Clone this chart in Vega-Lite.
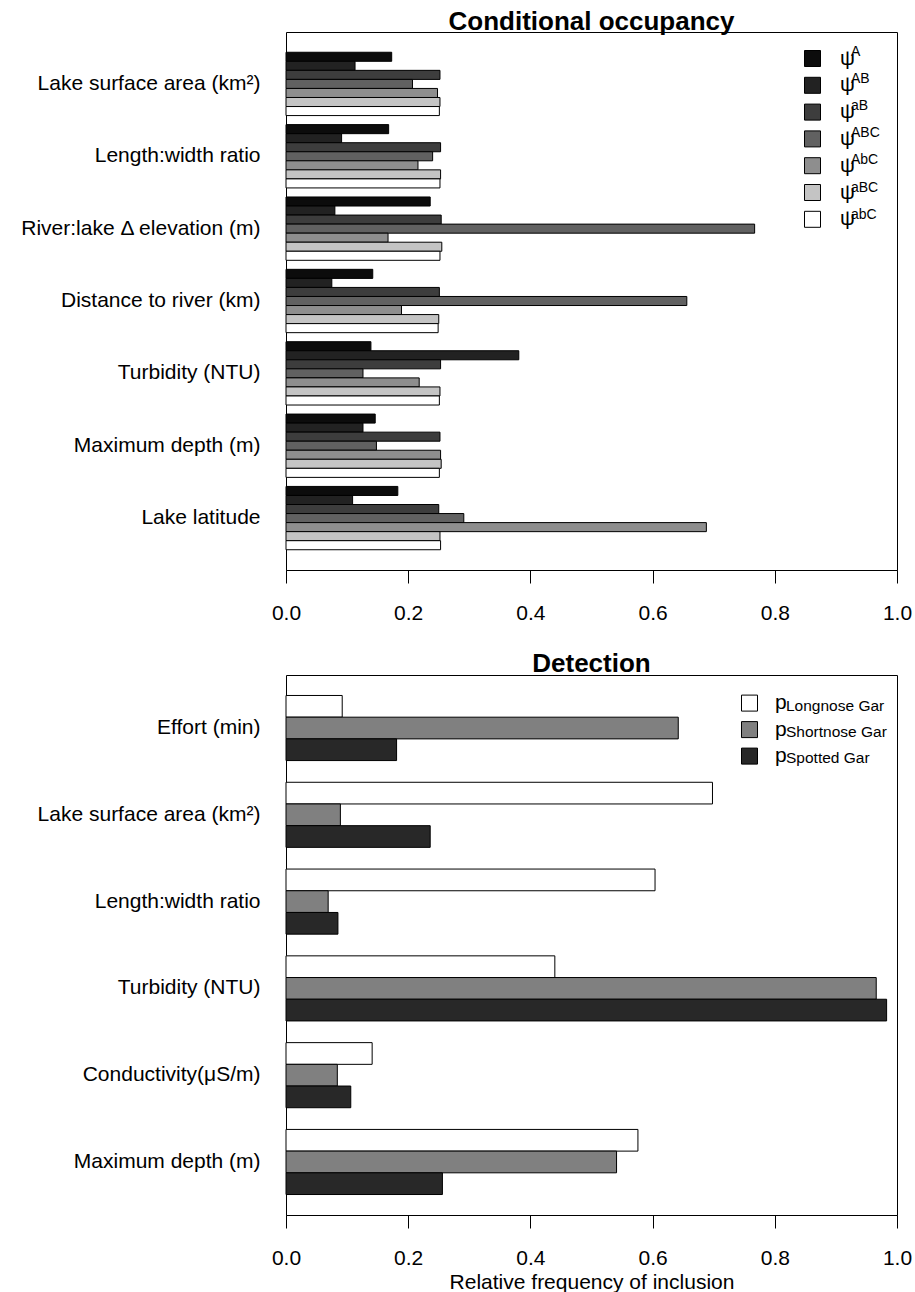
{
  "$schema": "https://vega.github.io/schema/vega-lite/v6.json",
  "background": "white",
  "padding": {"left": 19, "top": 8, "right": 10, "bottom": 2},
  "config": {
    "font": "Liberation Sans",
    "view": {"stroke": "black", "strokeWidth": 1},
    "axis": {"labelFont": "Liberation Sans", "labelColor": "black", "labelFontSize": 21, "grid": false, "domainColor": "black", "tickColor": "black", "titleFont": "Liberation Sans", "titleColor": "black"},
    "legend": {"labelFont": "Liberation Sans", "labelColor": "black"},
    "title": {"font": "Liberation Sans", "fontSize": 26, "fontWeight": "bold", "color": "black", "baseline": "alphabetic", "offset": -3}
  },
  "datasets": {
    "occ": [
      {"variable": "Lake surface area (km²)", "param": "psiA", "sup": "A", "value": 0.173},
      {"variable": "Lake surface area (km²)", "param": "psiAB", "sup": "AB", "value": 0.113},
      {"variable": "Lake surface area (km²)", "param": "psiaB", "sup": "aB", "value": 0.252},
      {"variable": "Lake surface area (km²)", "param": "psiABC", "sup": "ABC", "value": 0.207},
      {"variable": "Lake surface area (km²)", "param": "psiAbC", "sup": "AbC", "value": 0.248},
      {"variable": "Lake surface area (km²)", "param": "psiaBC", "sup": "aBC", "value": 0.252},
      {"variable": "Lake surface area (km²)", "param": "psiabC", "sup": "abC", "value": 0.251},
      {"variable": "Length:width ratio", "param": "psiA", "sup": "A", "value": 0.168},
      {"variable": "Length:width ratio", "param": "psiAB", "sup": "AB", "value": 0.091},
      {"variable": "Length:width ratio", "param": "psiaB", "sup": "aB", "value": 0.253},
      {"variable": "Length:width ratio", "param": "psiABC", "sup": "ABC", "value": 0.240},
      {"variable": "Length:width ratio", "param": "psiAbC", "sup": "AbC", "value": 0.216},
      {"variable": "Length:width ratio", "param": "psiaBC", "sup": "aBC", "value": 0.253},
      {"variable": "Length:width ratio", "param": "psiabC", "sup": "abC", "value": 0.252},
      {"variable": "River:lake Δ elevation (m)", "param": "psiA", "sup": "A", "value": 0.236},
      {"variable": "River:lake Δ elevation (m)", "param": "psiAB", "sup": "AB", "value": 0.080},
      {"variable": "River:lake Δ elevation (m)", "param": "psiaB", "sup": "aB", "value": 0.254},
      {"variable": "River:lake Δ elevation (m)", "param": "psiABC", "sup": "ABC", "value": 0.767},
      {"variable": "River:lake Δ elevation (m)", "param": "psiAbC", "sup": "AbC", "value": 0.167},
      {"variable": "River:lake Δ elevation (m)", "param": "psiaBC", "sup": "aBC", "value": 0.255},
      {"variable": "River:lake Δ elevation (m)", "param": "psiabC", "sup": "abC", "value": 0.252},
      {"variable": "Distance to river (km)", "param": "psiA", "sup": "A", "value": 0.142},
      {"variable": "Distance to river (km)", "param": "psiAB", "sup": "AB", "value": 0.075},
      {"variable": "Distance to river (km)", "param": "psiaB", "sup": "aB", "value": 0.251},
      {"variable": "Distance to river (km)", "param": "psiABC", "sup": "ABC", "value": 0.656},
      {"variable": "Distance to river (km)", "param": "psiAbC", "sup": "AbC", "value": 0.189},
      {"variable": "Distance to river (km)", "param": "psiaBC", "sup": "aBC", "value": 0.250},
      {"variable": "Distance to river (km)", "param": "psiabC", "sup": "abC", "value": 0.249},
      {"variable": "Turbidity (NTU)", "param": "psiA", "sup": "A", "value": 0.139},
      {"variable": "Turbidity (NTU)", "param": "psiAB", "sup": "AB", "value": 0.381},
      {"variable": "Turbidity (NTU)", "param": "psiaB", "sup": "aB", "value": 0.253},
      {"variable": "Turbidity (NTU)", "param": "psiABC", "sup": "ABC", "value": 0.126},
      {"variable": "Turbidity (NTU)", "param": "psiAbC", "sup": "AbC", "value": 0.218},
      {"variable": "Turbidity (NTU)", "param": "psiaBC", "sup": "aBC", "value": 0.252},
      {"variable": "Turbidity (NTU)", "param": "psiabC", "sup": "abC", "value": 0.251},
      {"variable": "Maximum depth (m)", "param": "psiA", "sup": "A", "value": 0.146},
      {"variable": "Maximum depth (m)", "param": "psiAB", "sup": "AB", "value": 0.126},
      {"variable": "Maximum depth (m)", "param": "psiaB", "sup": "aB", "value": 0.252},
      {"variable": "Maximum depth (m)", "param": "psiABC", "sup": "ABC", "value": 0.148},
      {"variable": "Maximum depth (m)", "param": "psiAbC", "sup": "AbC", "value": 0.253},
      {"variable": "Maximum depth (m)", "param": "psiaBC", "sup": "aBC", "value": 0.254},
      {"variable": "Maximum depth (m)", "param": "psiabC", "sup": "abC", "value": 0.251},
      {"variable": "Lake latitude", "param": "psiA", "sup": "A", "value": 0.183},
      {"variable": "Lake latitude", "param": "psiAB", "sup": "AB", "value": 0.109},
      {"variable": "Lake latitude", "param": "psiaB", "sup": "aB", "value": 0.250},
      {"variable": "Lake latitude", "param": "psiABC", "sup": "ABC", "value": 0.291},
      {"variable": "Lake latitude", "param": "psiAbC", "sup": "AbC", "value": 0.688},
      {"variable": "Lake latitude", "param": "psiaBC", "sup": "aBC", "value": 0.252},
      {"variable": "Lake latitude", "param": "psiabC", "sup": "abC", "value": 0.253}
    ],
    "det": [
      {"variable": "Effort (min)", "sp": "pL", "name": "Longnose Gar", "value": 0.092},
      {"variable": "Effort (min)", "sp": "pS", "name": "Shortnose Gar", "value": 0.642},
      {"variable": "Effort (min)", "sp": "pSp", "name": "Spotted Gar", "value": 0.181},
      {"variable": "Lake surface area (km²)", "sp": "pL", "name": "Longnose Gar", "value": 0.698},
      {"variable": "Lake surface area (km²)", "sp": "pS", "name": "Shortnose Gar", "value": 0.089},
      {"variable": "Lake surface area (km²)", "sp": "pSp", "name": "Spotted Gar", "value": 0.236},
      {"variable": "Length:width ratio", "sp": "pL", "name": "Longnose Gar", "value": 0.604},
      {"variable": "Length:width ratio", "sp": "pS", "name": "Shortnose Gar", "value": 0.069},
      {"variable": "Length:width ratio", "sp": "pSp", "name": "Spotted Gar", "value": 0.085},
      {"variable": "Turbidity (NTU)", "sp": "pL", "name": "Longnose Gar", "value": 0.440},
      {"variable": "Turbidity (NTU)", "sp": "pS", "name": "Shortnose Gar", "value": 0.966},
      {"variable": "Turbidity (NTU)", "sp": "pSp", "name": "Spotted Gar", "value": 0.983},
      {"variable": "Conductivity(μS/m)", "sp": "pL", "name": "Longnose Gar", "value": 0.141},
      {"variable": "Conductivity(μS/m)", "sp": "pS", "name": "Shortnose Gar", "value": 0.084},
      {"variable": "Conductivity(μS/m)", "sp": "pSp", "name": "Spotted Gar", "value": 0.106},
      {"variable": "Maximum depth (m)", "sp": "pL", "name": "Longnose Gar", "value": 0.576},
      {"variable": "Maximum depth (m)", "sp": "pS", "name": "Shortnose Gar", "value": 0.541},
      {"variable": "Maximum depth (m)", "sp": "pSp", "name": "Spotted Gar", "value": 0.256}
    ]
  },
  "bounds": "flush",
  "spacing": 105,
  "resolve": {
    "scale": {"x": "independent", "y": "independent", "yOffset": "independent", "fill": "independent", "stroke": "independent"},
    "legend": {"fill": "independent", "stroke": "independent"}
  },
  "vconcat": [
    {
      "title": {"text": "Conditional occupancy"},
      "width": 611,
      "height": 538,
      "data": {"name": "occ"},
      "mark": {"type": "bar", "strokeWidth": 1},
      "encoding": {
        "y": {
          "field": "variable", "type": "nominal",
          "sort": ["Lake surface area (km²)", "Length:width ratio", "River:lake Δ elevation (m)", "Distance to river (km)", "Turbidity (NTU)", "Maximum depth (m)", "Lake latitude"],
          "scale": {"paddingInner": 0.125, "paddingOuter": 0.28},
          "axis": {"title": null, "ticks": false, "tickSize": 0, "domain": false, "labelPadding": 26, "labelAlign": "right", "labelLimit": 400}
        },
        "yOffset": {
          "field": "param", "type": "nominal",
          "sort": ["psiA", "psiAB", "psiaB", "psiABC", "psiAbC", "psiaBC", "psiabC"],
          "scale": {"paddingInner": 0, "paddingOuter": 0}
        },
        "x": {
          "field": "value", "type": "quantitative",
          "scale": {"domain": [0, 1], "nice": false, "zero": true},
          "axis": {"title": null, "values": [0, 0.2, 0.4, 0.6, 0.8, 1], "format": ".1f", "tickSize": 13, "labelPadding": 19, "labelFlush": false, "domain": true}
        },
        "fill": {
          "field": "param", "type": "nominal",
          "scale": {"domain": ["psiA", "psiAB", "psiaB", "psiABC", "psiAbC", "psiaBC", "psiabC"], "range": ["#0c0c0c", "#222222", "#3d3d3d", "#616161", "#8e8e8e", "#c4c4c4", "#ffffff"]},
          "legend": {"title": null, "orient": "none", "legendX": 516, "legendY": 16, "labelExpr": "'ψ'", "labelFontSize": 21, "symbolType": "square", "symbolSize": 256, "symbolStrokeColor": "black", "symbolStrokeWidth": 1, "labelOffset": 17, "rowPadding": 4.8, "padding": 0}
        },
        "stroke": {
          "field": "sup", "type": "nominal",
          "scale": {"domain": ["A", "AB", "aB", "ABC", "AbC", "aBC", "abC"], "range": ["black", "black", "black", "black", "black", "black", "black"]},
          "legend": {"title": null, "orient": "none", "legendX": 539, "legendY": 11.5, "labelFontSize": 14, "symbolType": "square", "symbolSize": 256, "symbolOpacity": 0, "symbolStrokeWidth": 1, "labelOffset": 9, "rowPadding": 10.1, "padding": 0}
        }
      }
    },
    {
      "title": {"text": "Detection", "offset": -2},
      "width": 611,
      "height": 540,
      "data": {"name": "det"},
      "mark": {"type": "bar", "strokeWidth": 1},
      "encoding": {
        "y": {
          "field": "variable", "type": "nominal",
          "sort": ["Effort (min)", "Lake surface area (km²)", "Length:width ratio", "Turbidity (NTU)", "Conductivity(μS/m)", "Maximum depth (m)"],
          "scale": {"paddingInner": 0.25, "paddingOuter": 0.236},
          "axis": {"title": null, "ticks": false, "tickSize": 0, "domain": false, "labelPadding": 26, "labelAlign": "right", "labelLimit": 400}
        },
        "yOffset": {
          "field": "sp", "type": "nominal",
          "sort": ["pL", "pS", "pSp"],
          "scale": {"paddingInner": 0, "paddingOuter": 0}
        },
        "x": {
          "field": "value", "type": "quantitative",
          "scale": {"domain": [0, 1], "nice": false, "zero": true},
          "axis": {"title": "Relative frequency of inclusion", "titleFontSize": 21, "titleFontWeight": "normal", "titlePadding": 3, "values": [0, 0.2, 0.4, 0.6, 0.8, 1], "format": ".1f", "tickSize": 13, "labelPadding": 19, "labelFlush": false, "domain": true}
        },
        "fill": {
          "field": "sp", "type": "nominal",
          "scale": {"domain": ["pL", "pS", "pSp"], "range": ["#ffffff", "#808080", "#282828"]},
          "legend": {"title": null, "orient": "none", "legendX": 453, "legendY": 17.6, "labelExpr": "'p'", "labelFontSize": 21, "symbolType": "square", "symbolSize": 256, "symbolStrokeColor": "black", "symbolStrokeWidth": 1, "labelOffset": 15, "rowPadding": 4.5, "padding": 0}
        },
        "stroke": {
          "field": "name", "type": "nominal",
          "scale": {"domain": ["Longnose Gar", "Shortnose Gar", "Spotted Gar"], "range": ["black", "black", "black"]},
          "legend": {"title": null, "orient": "none", "legendX": 453, "legendY": 22.8, "labelFontSize": 15.5, "symbolType": "square", "symbolSize": 256, "symbolOpacity": 0, "symbolStrokeWidth": 1, "labelOffset": 30, "rowPadding": 9, "padding": 0}
        }
      }
    }
  ]
}
